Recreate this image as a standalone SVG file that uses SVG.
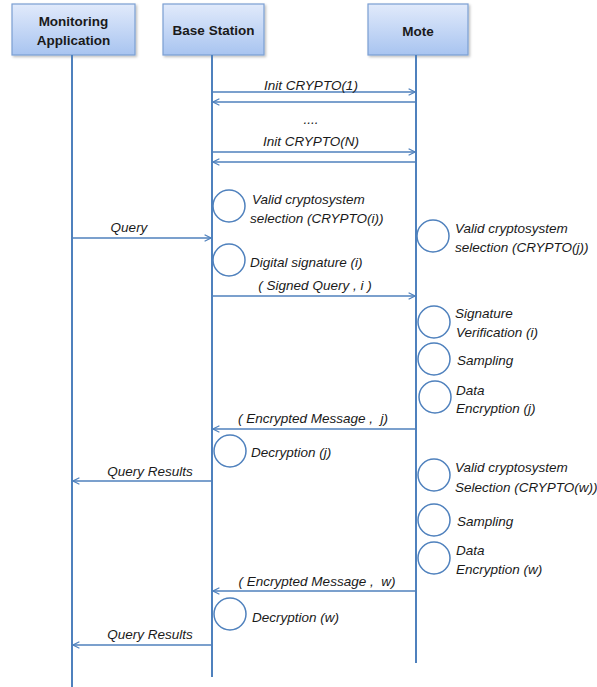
<svg xmlns="http://www.w3.org/2000/svg" width="597" height="687" viewBox="0 0 597 687">
<defs>
<linearGradient id="g" x1="0" y1="0" x2="0" y2="1">
<stop offset="0" stop-color="#e1eafb"/>
<stop offset="1" stop-color="#a8c4f0"/>
</linearGradient>
<marker id="ah" viewBox="0 0 10 10" refX="9" refY="5" markerWidth="8" markerHeight="8" markerUnits="userSpaceOnUse" orient="auto">
<polyline points="1,1 9,5 1,9" fill="none" stroke="#4f81bd" stroke-width="1.5"/>
</marker>
<filter id="sh" x="-10%" y="-10%" width="130%" height="130%">
<feDropShadow dx="1.5" dy="1.5" stdDeviation="1" flood-color="#000" flood-opacity="0.25"/>
</filter>
</defs>
<style>
.box{fill:url(#g);stroke:#7b9fd3;stroke-width:1.2}
.hd{font-family:"Liberation Sans",Arial,sans-serif;font-weight:bold;font-size:13.5px;fill:#1a1a1a;text-anchor:middle}
.life{stroke:#4f81bd;stroke-width:2;fill:none}
.msg{stroke:#4f81bd;stroke-width:1.3;fill:none;marker-end:url(#ah)}
.act{fill:#fff;stroke:#4f81bd;stroke-width:1.5}
.t{font-family:"Liberation Sans",Arial,sans-serif;font-style:italic;font-size:13.5px;fill:#1a1a1a;white-space:pre}
.tc{font-family:"Liberation Sans",Arial,sans-serif;font-style:italic;font-size:13.5px;fill:#1a1a1a;text-anchor:middle;white-space:pre}
</style>
<rect width="597" height="687" fill="#fff"/>
<g id="monitoring-application">
<rect class="box" x="12" y="4" width="123" height="51" filter="url(#sh)"/>
<text class="hd" x="73.5" y="26">Monitoring</text>
<text class="hd" x="73.5" y="45">Application</text>
<line class="life" x1="72" y1="55" x2="72" y2="687"/>
</g>
<g id="base-station">
<rect class="box" x="163" y="4" width="101" height="51" filter="url(#sh)"/>
<text class="hd" x="213.5" y="35">Base Station</text>
<line class="life" x1="212" y1="55" x2="212" y2="677"/>
</g>
<g id="mote">
<rect class="box" x="368" y="4" width="100" height="51" filter="url(#sh)"/>
<text class="hd" x="418" y="36">Mote</text>
<line class="life" x1="416" y1="55" x2="416" y2="663"/>
</g>
<g id="connectors">
<line class="msg" x1="212" y1="92" x2="415" y2="92"/>
<line class="msg" x1="416" y1="102" x2="213" y2="102"/>
<line class="msg" x1="212" y1="152" x2="415" y2="152"/>
<line class="msg" x1="416" y1="162" x2="213" y2="162"/>
<line class="msg" x1="72" y1="238" x2="211" y2="238"/>
<line class="msg" x1="212" y1="296" x2="415" y2="296"/>
<line class="msg" x1="416" y1="429" x2="213" y2="429"/>
<line class="msg" x1="212" y1="481" x2="73" y2="481"/>
<line class="msg" x1="416" y1="591" x2="213" y2="591"/>
<line class="msg" x1="212" y1="645" x2="73" y2="645"/>
</g>
<g id="labels">
<text class="tc" x="311" y="90">Init CRYPTO(1)</text>
<text class="tc" x="311" y="124">....</text>
<text class="tc" x="311" y="146">Init CRYPTO(N)</text>
<text class="tc" x="129" y="232">Query</text>
<text class="tc" x="315" y="290">( Signed Query , i )</text>
<text class="tc" x="313" y="423">( Encrypted Message ,  j)</text>
<text class="tc" x="150" y="476">Query Results</text>
<text class="tc" x="317" y="586">( Encrypted Message ,  w)</text>
<text class="tc" x="150" y="639">Query Results</text>
</g>
<g id="act-valid-i">
<circle class="act" cx="229" cy="206" r="16"/>
<text class="t" x="252" y="204">Valid cryptosystem</text>
<text class="t" x="250" y="223">selection (CRYPTO(i))</text>
</g>
<g id="act-valid-j">
<circle class="act" cx="433" cy="236" r="16"/>
<text class="t" x="455" y="233">Valid cryptosystem</text>
<text class="t" x="455" y="252">selection (CRYPTO(j))</text>
</g>
<g id="act-signature">
<circle class="act" cx="229" cy="260" r="16"/>
<text class="t" x="250" y="267">Digital signature (i)</text>
</g>
<g id="act-verify">
<circle class="act" cx="434" cy="322" r="16"/>
<text class="t" x="455" y="318">Signature</text>
<text class="t" x="456" y="337">Verification (i)</text>
</g>
<g id="act-sampling-1">
<circle class="act" cx="434" cy="359" r="16"/>
<text class="t" x="457" y="365">Sampling</text>
</g>
<g id="act-encrypt-j">
<circle class="act" cx="435" cy="397" r="16"/>
<text class="t" x="456" y="395">Data</text>
<text class="t" x="456" y="413">Encryption (j)</text>
</g>
<g id="act-decrypt-j">
<circle class="act" cx="230" cy="451" r="16"/>
<text class="t" x="251" y="457">Decryption (j)</text>
</g>
<g id="act-valid-w">
<circle class="act" cx="434" cy="475" r="16"/>
<text class="t" x="455" y="472">Valid cryptosystem</text>
<text class="t" x="455" y="492">Selection (CRYPTO(w))</text>
</g>
<g id="act-sampling-2">
<circle class="act" cx="434" cy="520" r="16"/>
<text class="t" x="457" y="526">Sampling</text>
</g>
<g id="act-encrypt-w">
<circle class="act" cx="434" cy="558" r="16"/>
<text class="t" x="456" y="555">Data</text>
<text class="t" x="456" y="574">Encryption (w)</text>
</g>
<g id="act-decrypt-w">
<circle class="act" cx="230" cy="614" r="16"/>
<text class="t" x="252" y="622">Decryption (w)</text>
</g>
</svg>
